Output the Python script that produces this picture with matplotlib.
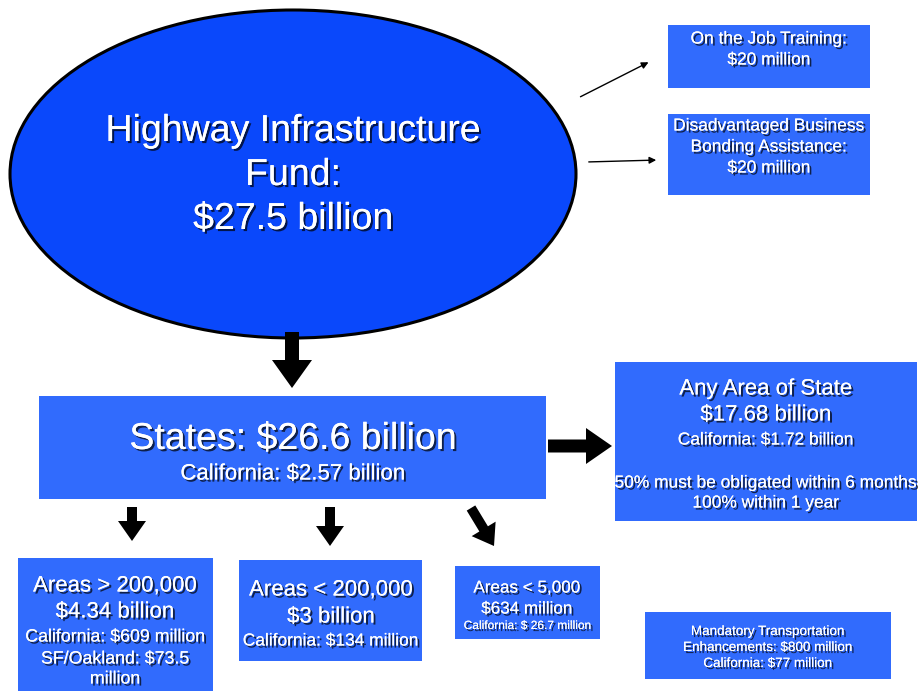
import matplotlib
matplotlib.use('Agg')
import matplotlib.pyplot as plt
from matplotlib.patches import Ellipse, Rectangle, FancyArrow
import matplotlib.patheffects as pe

plt.rcParams['font.family'] = ['Liberation Sans', 'DejaVu Sans']

# text content of the diagram
fund_lines = ['Highway Infrastructure', 'Fund:', '$27.5 billion']
job_lines = ['On the Job Training:', '$20 million']
dbe_lines = ['Disadvantaged Business', 'Bonding Assistance:', '$20 million']
states_lines = ['States: $26.6 billion', 'California: $2.57 billion']
any_lines = ['Any Area of State', '$17.68 billion', 'California: $1.72 billion', '',
             '50% must be obligated within 6 months', '100% within 1 year']
big_lines = ['Areas > 200,000', '$4.34 billion', 'California: $609 million',
             'SF/Oakland: $73.5', 'million']
mid_lines = ['Areas < 200,000', '$3 billion', 'California: $134 million']
small_lines = ['Areas < 5,000', '$634 million', 'California: $ 26.7 million']
mte_lines = ['Mandatory Transportation', 'Enhancements: $800 million', 'California: $77 million']

ELLIPSE_BLUE = '#0a48fb'
BOX_BLUE = '#316bfd'
shadow = [pe.withSimplePatchShadow(offset=(1.5, -1.5), shadow_rgbFace='black', alpha=0.7), pe.Normal()]

fig = plt.figure(figsize=(9.2, 6.91), dpi=100)
ax = fig.add_axes([0, 0, 1, 1])
ax.set_xlim(0, 920)
ax.set_ylim(691, 0)
ax.axis('off')


def box(x0, y0, x1, y1):
    ax.add_patch(Rectangle((x0, y0), x1 - x0, y1 - y0, facecolor=BOX_BLUE, edgecolor='none'))


def lines(cx, ys, texts, sizes):
    # va=center puts glyphs a touch high, nudge down by 2px
    for y, t, s in zip(ys, texts, sizes):
        if t:
            ax.text(cx, y + 2, t, color='white', fontsize=s, ha='center', va='center',
                    path_effects=shadow)


def arrow(x0, y0, x1, y1, w, hw, hl):
    ax.add_patch(FancyArrow(x0, y0, x1 - x0, y1 - y0, width=w, head_width=hw,
                            head_length=hl, length_includes_head=True,
                            color='black', lw=0))


# fund ellipse
ax.add_patch(Ellipse((293, 174), 566, 328, facecolor=ELLIPSE_BLUE, edgecolor='black', lw=2.2))
lines(293, [129, 173, 217], fund_lines, [27, 27, 27])

# top-right boxes
box(668, 25, 870, 88)
lines(769, [37, 58], job_lines, [12.5, 12.5])
box(668, 114, 870, 195)
lines(769, [124, 145, 166], dbe_lines, [12.5, 12.5, 12.5])
ax.annotate('', xy=(651, 61), xytext=(578, 98),
            arrowprops=dict(arrowstyle='-|>', color='black', lw=1, mutation_scale=10))
ax.annotate('', xy=(659, 160), xytext=(586, 162),
            arrowprops=dict(arrowstyle='-|>', color='black', lw=1, mutation_scale=10))

# states
arrow(292, 332, 292, 388, 14, 40, 28)
box(39, 396, 546, 499)
lines(293, [437, 472], states_lines, [27, 16])
arrow(548, 446, 612, 446, 13, 36, 26)

# any area of state
box(615, 362, 917, 521)
lines(766, [387, 413, 438, 460, 481, 501], any_lines, [16, 16, 12.5, 12.5, 12.5, 12.5])

# down arrows to sub-areas
arrow(132, 507, 132, 541, 10, 28, 20)
arrow(330, 507, 330, 546, 10, 28, 20)
arrow(471, 508, 494, 546, 10, 28, 20)

# sub-area boxes
box(18, 558, 213, 691)
lines(115, [584, 610, 635, 657, 677], big_lines, [16, 16, 12.8, 12.8, 12.8])
box(239, 560, 422, 661)
lines(331, [588, 615, 639], mid_lines, [16, 16, 12.5])
box(455, 566, 600, 639)
lines(527, [586, 607, 624], small_lines, [12.3, 12.3, 8.6])

box(645, 612, 891, 679)
lines(768, [630, 646, 662], mte_lines, [9.7, 9.7, 9.7])

fig.savefig('out.png', dpi=100, facecolor='white')
